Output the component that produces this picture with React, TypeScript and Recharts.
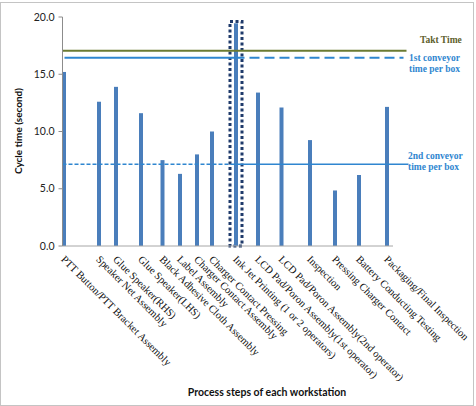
import React from "react";
import {
  ComposedChart,
  Bar,
  XAxis,
  YAxis,
  ReferenceLine,
  ReferenceArea,
} from "recharts";

const stepLabels = [
  "PTT Button/PTT Bracket Assembly",
  "Speaker Net Assembly",
  "Glue Speaker(RHS)",
  "Glue Speaker(LHS)",
  "Black Adhesive Cloth Assembly",
  "Label Assembly",
  "Charger Contact Assembly",
  "Charger Contact Pressing",
  "Ink Jet Printing (1 or 2 operators)",
  "LCD Pad/Poron Assembly(1st operator)",
  "LCD Pad/Poron Assembly(2nd operator)",
  "Inspection",
  "Pressing Charger Contact",
  "Battery Conducting Testing",
  "Packaging/Final Inspection",
];

// position of each step along the x axis (uneven spacing, as in the original)
const stepPos = [1, 36, 53, 78, 99.5, 117, 134, 149, 173, 195, 218.5, 247, 272, 296, 324];

const cycleTimes = [15.2, 12.6, 13.9, 11.6, 7.5, 6.3, 8.0, 10.0, 19.45, 13.4, 12.1, 9.25, 4.85, 6.2, 12.15];

const yTicks = [0, 5, 10, 15, 20];

const taktTime = 17.05;
const conveyor1 = 16.45;
const conveyor2 = 7.13;

const data = stepPos.map((pos, i) => ({ pos, v: cycleTimes[i] }));

const BAR = "#4a7ebb";
const BLUE = "#2f86d0";
const OLIVE = "#6b7b33";
const SERIF = "'Liberation Serif', 'DejaVu Serif', serif";
const SANS = "Lato, 'Open Sans', sans-serif";

function StepTick(props: any) {
  const { x, y, index } = props;
  const ax = x - 3;
  const ay = y + 6;
  return (
    <text
      x={ax}
      y={ay}
      transform={`rotate(45 ${ax} ${ay})`}
      textAnchor="start"
      fontFamily={SERIF}
      fontSize={10.5}
      fill="#111"
    >
      {stepLabels[index]}
    </text>
  );
}

export default function App() {
  return (
    <div
      style={{
        position: "absolute",
        left: 0,
        top: 0,
        width: 476,
        height: 406,
        background: "#fff",
      }}
    >
      <div
        style={{
          position: "absolute",
          left: 0,
          top: 2,
          width: 472,
          height: 402,
          border: "1px solid #c4c4c4",
        }}
      />
      <div style={{ position: "absolute", left: 0, top: 0 }}>
        <ComposedChart
          width={476}
          height={406}
          data={data}
          margin={{ top: 17, right: 68.5, left: 0, bottom: 0 }}
        >
          <XAxis
            type="number"
            dataKey="pos"
            domain={[0, 345]}
            ticks={stepPos}
            interval={0}
            axisLine={false}
            tickLine={false}
            height={160}
            tick={<StepTick />}
          />
          <YAxis
            type="number"
            domain={[0, 20]}
            ticks={yTicks}
            width={62.5}
            tickSize={4}
            tickMargin={4}
            tickFormatter={(v: number) => v.toFixed(1)}
            axisLine={{ stroke: "#8c8c8c" }}
            tickLine={{ stroke: "#8c8c8c" }}
            tick={{ fontFamily: SANS, fontSize: 10.5, fill: "#222" }}
          />
          <ReferenceLine
            segment={[{ x: 0, y: 0 }, { x: 330.5, y: 0 }]}
            stroke="#a6a6a6"
            ifOverflow="visible"
          />
          <Bar dataKey="v" fill={BAR} barSize={4} isAnimationActive={false} />
          <ReferenceLine
            segment={[{ x: 0, y: taktTime }, { x: 344, y: taktTime }]}
            stroke={OLIVE}
            strokeWidth={2}
            ifOverflow="visible"
          />
          <ReferenceLine
            segment={[{ x: 2, y: conveyor1 }, { x: 172, y: conveyor1 }]}
            stroke={BLUE}
            strokeWidth={2}
            ifOverflow="visible"
          />
          <ReferenceLine
            segment={[{ x: 172, y: conveyor1 }, { x: 341, y: conveyor1 }]}
            stroke={BLUE}
            strokeWidth={2}
            strokeDasharray="10 5"
            ifOverflow="visible"
          />
          <ReferenceLine
            segment={[{ x: 0, y: conveyor2 }, { x: 172, y: conveyor2 }]}
            stroke={BLUE}
            strokeWidth={1.5}
            strokeDasharray="4 2"
            ifOverflow="visible"
          />
          <ReferenceLine
            segment={[{ x: 172, y: conveyor2 }, { x: 346, y: conveyor2 }]}
            stroke={BLUE}
            strokeWidth={1.5}
            ifOverflow="visible"
          />
          <ReferenceArea
            x1={167.5}
            x2={179.5}
            y1={0}
            y2={19.6}
            fill="none"
            fillOpacity={0}
            stroke="#1f3a6b"
            strokeWidth={3}
            strokeDasharray="3 2.5"
            ifOverflow="visible"
          />
        </ComposedChart>
      </div>
      <svg
        width={476}
        height={406}
        style={{ position: "absolute", left: 0, top: 0, pointerEvents: "none" }}
      >
        <text
          x={18}
          y={131}
          transform="rotate(-90 18 131)"
          textAnchor="middle"
          dominantBaseline="central"
          fontFamily={SANS}
          fontWeight="bold"
          fontSize={10}
          fill="#111"
        >
          Cycle time (second)
        </text>
        <text
          x={267}
          y={396}
          textAnchor="middle"
          fontFamily={SANS}
          fontWeight="bold"
          fontSize={10.5}
          fill="#111"
        >
          Process steps of each workstation
        </text>
        <text x={420} y={43} fontFamily={SERIF} fontWeight="bold" fontSize={9.5} fill="#5e5e2c">
          Takt Time
        </text>
        <text x={409} y={61} fontFamily={SERIF} fontWeight="bold" fontSize={9.5} fill={BLUE}>
          1st conveyor
        </text>
        <text x={409} y={72} fontFamily={SERIF} fontWeight="bold" fontSize={9.5} fill={BLUE}>
          time per box
        </text>
        <text x={408} y={159} fontFamily={SERIF} fontWeight="bold" fontSize={9.5} fill={BLUE}>
          2nd conveyor
        </text>
        <text x={408} y={170} fontFamily={SERIF} fontWeight="bold" fontSize={9.5} fill={BLUE}>
          time per box
        </text>
      </svg>
    </div>
  );
}
